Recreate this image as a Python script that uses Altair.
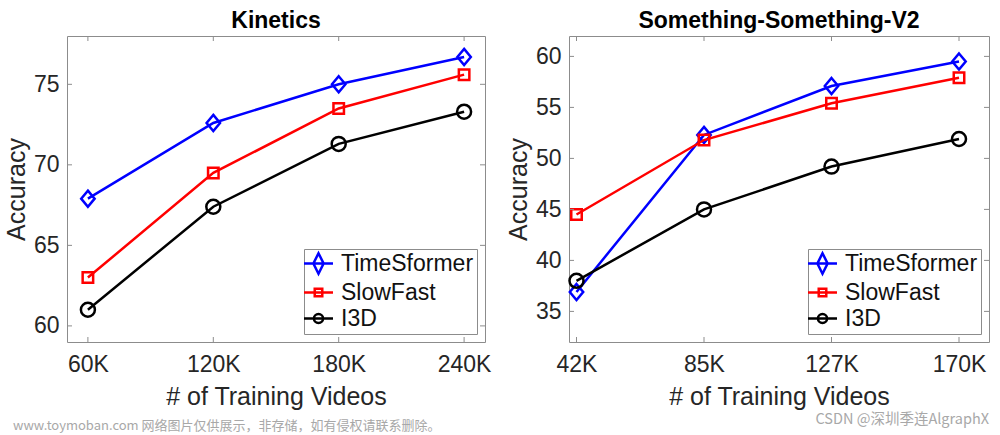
import altair as alt
import pandas as pd

FONT = "Liberation Sans"
FRAME = "#8c8c8c"
TEXT = "#262626"

models = ["TimeSformer", "SlowFast", "I3D"]
colors = ["#0000ff", "#ff0000", "#000000"]

# Kinetics
kin_x = [60, 120, 180, 240]
kin_labels = ["60K", "120K", "180K", "240K"]
kin_timesformer = [67.9, 72.6, 75.0, 76.7]
kin_slowfast = [63.0, 69.5, 73.5, 75.6]
kin_i3d = [61.0, 67.4, 71.3, 73.3]
kin_yticks = [60, 65, 70, 75]

# Something-Something-V2
ssv2_x = [42.5, 85, 127.5, 170]
ssv2_labels = ["42K", "85K", "127K", "170K"]
ssv2_timesformer = [36.9, 52.3, 57.1, 59.5]
ssv2_slowfast = [44.5, 51.8, 55.4, 57.9]
ssv2_i3d = [38.0, 45.0, 49.2, 51.9]
ssv2_yticks = [35, 40, 45, 50, 55, 60]

# marker styles
marker_shapes = ["M0,-1.2L1,0L0,1.2L-1,0Z", "square", "circle"]
marker_sizes = [180, 110, 196]
legend_paths = [
    "M-2.23,0H2.23M0,-1.58L0.785,0L0,1.58L-0.785,0Z",
    "M-2.23,0H2.23M-0.58,-0.58H0.58V0.58H-0.58Z",
    "M-2.23,0H2.23M-0.7,0A0.7,0.7 0 1,0 0.7,0A0.7,0.7 0 1,0 -0.7,0Z",
]


def panel(title, xs, xlabels, series, xdom, ydom, yticks, w, h, wm):
    rows = []
    for m, vals in zip(models, series):
        for x, v in zip(xs, vals):
            rows.append({"x": x, "acc": v, "Model": m})
    df = pd.DataFrame(rows)

    label_expr = " : ".join(f"datum.value == {x} ? '{l}'" for x, l in zip(xs, xlabels)) + " : ''"
    xscale = alt.Scale(domain=xdom, nice=False, zero=False)
    yscale = alt.Scale(domain=ydom, nice=False, zero=False)
    X = alt.X("x:Q", scale=xscale,
              axis=alt.Axis(values=xs, labelExpr=label_expr, title="# of Training Videos",
                            labelPadding=11, titlePadding=8))
    Y = alt.Y("acc:Q", scale=yscale,
              axis=alt.Axis(values=yticks, title="Accuracy", labelPadding=8, titlePadding=4))

    layers = []
    for m, c, s, z in zip(models, colors, marker_shapes, marker_sizes):
        sub = alt.Chart(df).transform_filter(alt.datum.Model == m)
        layers.append(sub.mark_line(color=c, strokeWidth=2.5).encode(X, Y))
        layers.append(sub.mark_point(shape=s, size=z, color=c, strokeWidth=2.5,
                                     filled=False, opacity=1).encode(X, Y))

    # inward ticks on all four sides
    xt = pd.DataFrame({"x": xs})
    yt = pd.DataFrame({"acc": yticks})
    layers.append(alt.Chart(xt).mark_rule(color=FRAME, strokeWidth=1).encode(
        X, y=alt.value(h), y2=alt.value(h - 5)))
    layers.append(alt.Chart(xt).mark_rule(color=FRAME, strokeWidth=1).encode(
        X, y=alt.value(0), y2=alt.value(5)))
    layers.append(alt.Chart(yt).mark_rule(color=FRAME, strokeWidth=1).encode(
        Y, x=alt.value(0), x2=alt.value(5)))
    layers.append(alt.Chart(yt).mark_rule(color=FRAME, strokeWidth=1).encode(
        Y, x=alt.value(w), x2=alt.value(w - 5)))

    leg = dict(title=None, orient="bottom-right", offset=8, labelFontSize=23, labelFont=FONT,
               labelColor="#111111", strokeColor=FRAME, fillColor="white", padding=3,
               symbolSize=169, symbolStrokeWidth=2.5, symbolOpacity=1, labelOffset=11,
               rowPadding=2)
    layers.append(alt.Chart(df).mark_point(opacity=0, filled=False).encode(
        X, Y,
        color=alt.Color("Model:N", scale=alt.Scale(domain=models, range=colors),
                        legend=alt.Legend(**leg)),
        shape=alt.Shape("Model:N", scale=alt.Scale(domain=models, range=legend_paths),
                        legend=alt.Legend(**leg)),
    ))

    # watermark text
    txt, tx, ty, align, fs = wm
    layers.append(alt.Chart(pd.DataFrame({"a": [0]})).mark_text(
        text=txt, align=align, baseline="middle", fontSize=fs, color="#a8a8a8",
        font="Noto Sans CJK SC").encode(x=alt.value(tx), y=alt.value(ty)))

    return alt.layer(*layers).properties(
        width=w, height=h,
        title=alt.TitleParams(title, fontSize=23, fontWeight="bold", color="black",
                              font=FONT, baseline="bottom", offset=-20),
    )


left = panel("Kinetics", kin_x, kin_labels, [kin_timesformer, kin_slowfast, kin_i3d],
             [50, 250], [59, 78], kin_yticks, 418, 306,
             ("www.toymoban.com 网络图片仅供展示，非存储，如有侵权请联系删除。", -54, 390, "left", 13))
right = panel("Something-Something-V2", ssv2_x, ssv2_labels,
              [ssv2_timesformer, ssv2_slowfast, ssv2_i3d],
              [40, 180], [32, 62], ssv2_yticks, 420, 306,
              ("CSDN @深圳季连AlgraphX", 420, 384, "right", 14.5))

chart = alt.hconcat(left, right, spacing=13).resolve_scale(
    color="independent", shape="independent"
).resolve_legend(color="independent", shape="independent").properties(
    padding={"left": 3, "top": 9, "right": 5, "bottom": 5}
).configure(font=FONT).configure_view(
    stroke=FRAME, strokeWidth=1
).configure_axis(
    domain=False, ticks=False, grid=False, labelFontSize=23, labelFont=FONT,
    labelColor=TEXT, titleFontSize=25, titleFont=FONT, titleFontWeight="normal",
    titleColor=TEXT,
)

chart.save("out.html", embed_options={"renderer": "svg", "actions": False})
